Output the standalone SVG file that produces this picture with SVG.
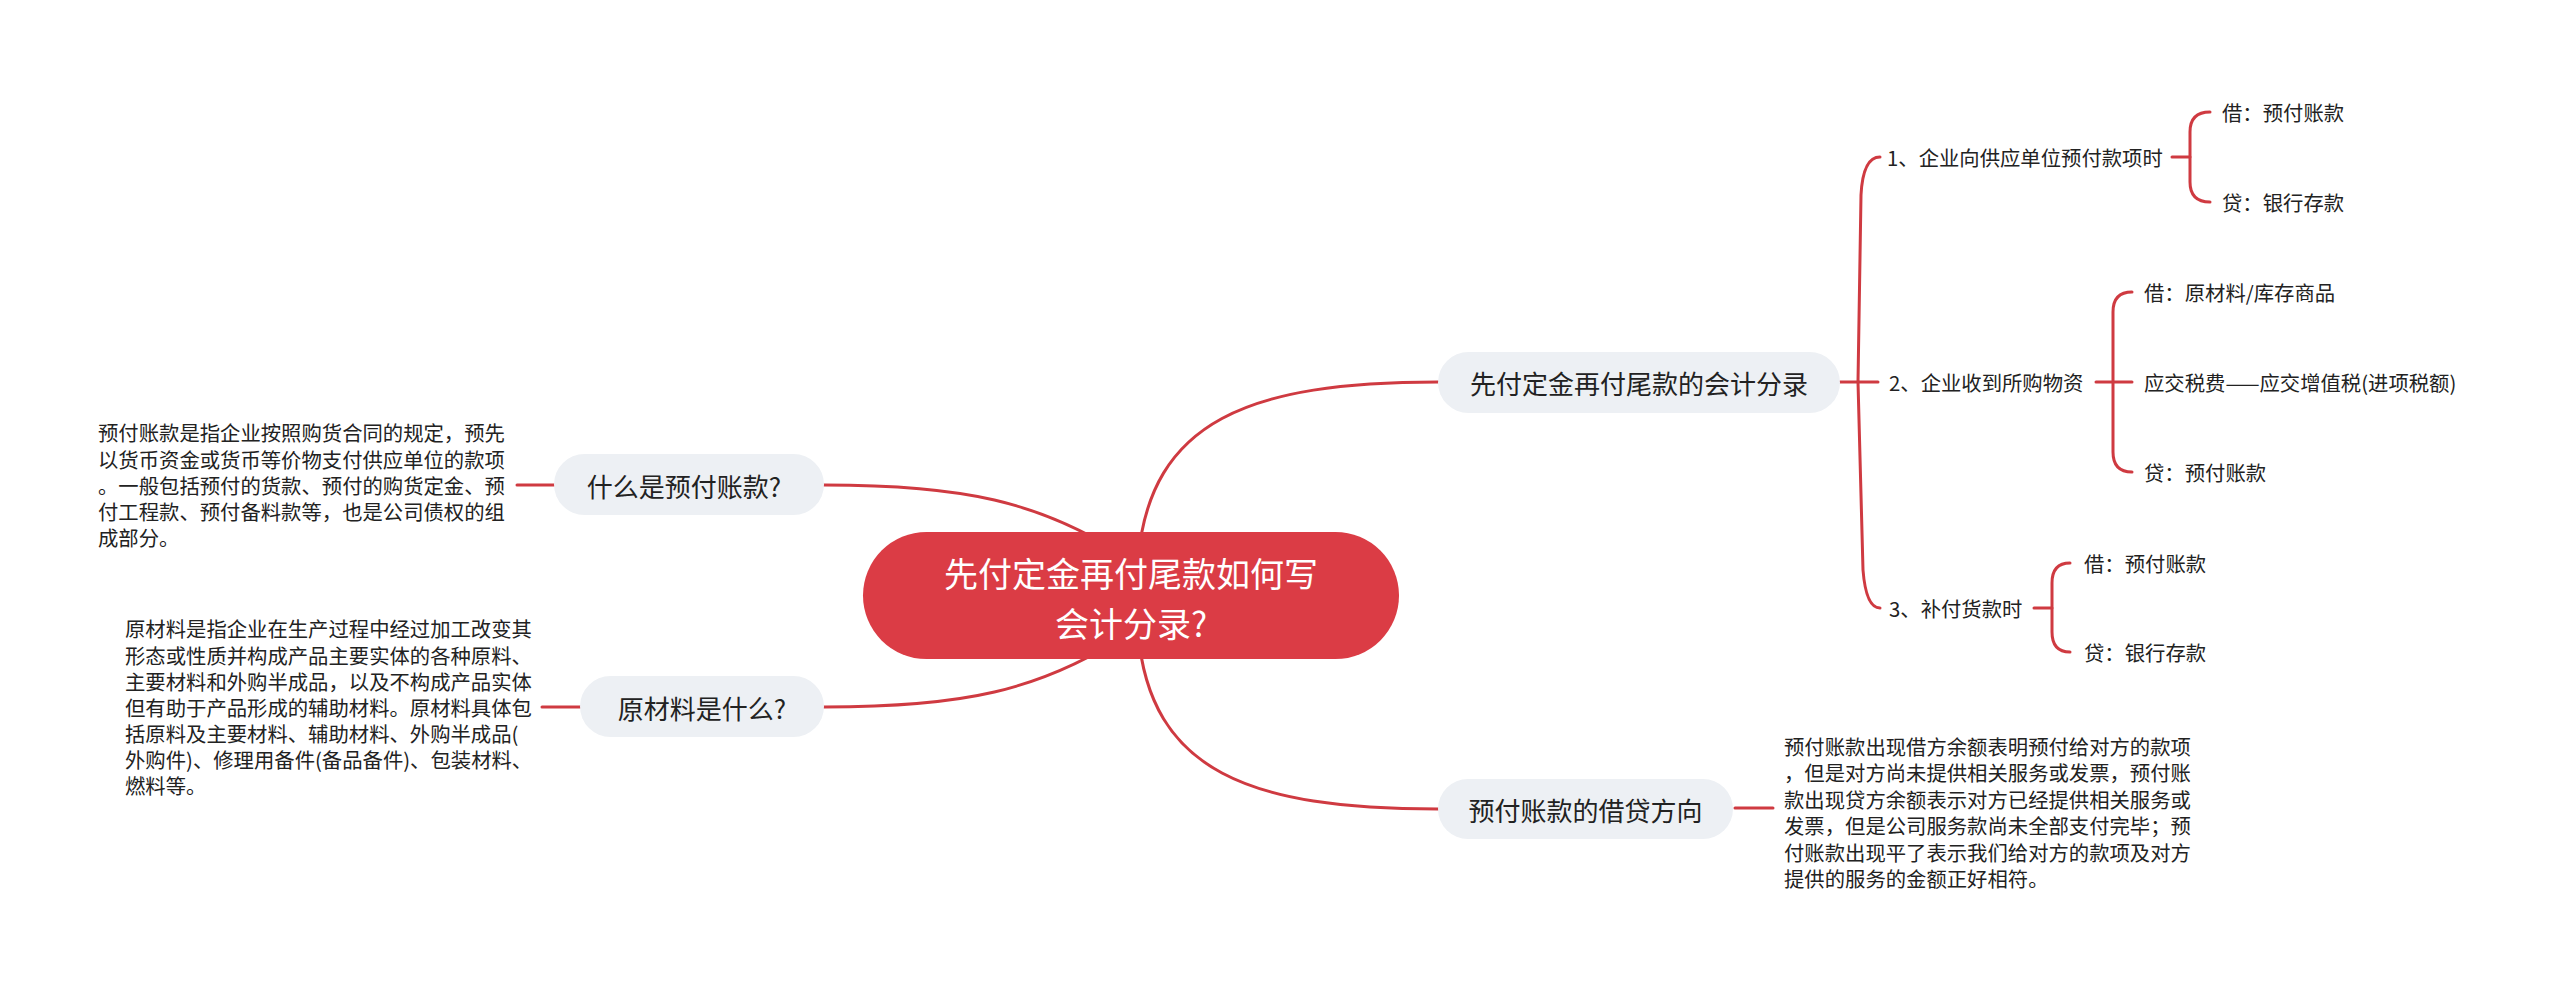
<svg xmlns="http://www.w3.org/2000/svg" width="2560" height="986" viewBox="0 0 2560 986">
<style>
text{font-family:"Noto Sans CJK SC","Noto Sans",sans-serif;dominant-baseline:central;fill:#222}
.c{fill:none;stroke:#cf3a41;stroke-width:3;stroke-linecap:round}
.n{fill:#edf0f4}
.t26{font-size:26px;text-anchor:middle}
.t20{font-size:20.35px}
.root{fill:#db3c45}
.rt{font-size:34px;fill:#fff;text-anchor:middle}
</style>
<rect width="2560" height="986" fill="#fff"/>
<g id="connectors">
<path class="c" d="M824,485 C960,485 1040,500 1131,560"/>
<path class="c" d="M824,707 C960,707 1040,692 1131,632"/>
<path class="c" d="M1138,560 C1150,420 1250,382 1438,382"/>
<path class="c" d="M1138,632 C1150,772 1250,809 1438,809"/>
<path class="c" d="M517,485 L554,485"/>
<path class="c" d="M542,707 L580,707"/>
<path class="c" d="M1735,808 L1773,808"/>
<path class="c" d="M1840,382 L1878,382"/>
<path class="c" d="M1858,382 L1861,195 Q1863,157 1880,157"/>
<path class="c" d="M1858,382 L1863,570 Q1866,608 1880,608"/>
<path class="c" d="M2172,157 L2190,157"/>
<path class="c" d="M2210,112 Q2190,112 2190,132 L2190,182 Q2190,202 2210,202"/>
<path class="c" d="M2096,382 L2132,382"/>
<path class="c" d="M2132,292 Q2113,292 2113,312 L2113,452 Q2113,472 2132,472"/>
<path class="c" d="M2034,608 L2052,608"/>
<path class="c" d="M2070,563 Q2052,563 2052,583 L2052,632 Q2052,652 2070,652"/>
</g>
<g id="root">
<rect class="root" x="863" y="532" width="536" height="127" rx="63.5"/>
<text class="rt" x="1131" y="572">先付定金再付尾款如何写</text>
<text class="rt" x="1131" y="622">会计分录?</text>
</g>
<g id="n-what-prepaid">
<rect class="n" x="554" y="454" width="270" height="61" rx="30.5"/>
<text class="t26" x="684" y="485">什么是预付账款?</text>
</g>
<g id="n-prepaid-desc">
<text class="t20" x="98" y="432">预付账款是指企业按照购货合同的规定，预先</text>
<text class="t20" x="98" y="459">以货币资金或货币等价物支付供应单位的款项</text>
<text class="t20" x="98" y="485">。一般包括预付的货款、预付的购货定金、预</text>
<text class="t20" x="98" y="511">付工程款、预付备料款等，也是公司债权的组</text>
<text class="t20" x="98" y="537">成部分。</text>
</g>
<g id="n-what-material">
<rect class="n" x="580" y="676" width="244" height="61" rx="30.5"/>
<text class="t26" x="702" y="707">原材料是什么?</text>
</g>
<g id="n-material-desc">
<text class="t20" x="125" y="628">原材料是指企业在生产过程中经过加工改变其</text>
<text class="t20" x="125" y="655">形态或性质并构成产品主要实体的各种原料、</text>
<text class="t20" x="125" y="681">主要材料和外购半成品，以及不构成产品实体</text>
<text class="t20" x="125" y="707">但有助于产品形成的辅助材料。原材料具体包</text>
<text class="t20" x="125" y="733">括原料及主要材料、辅助材料、外购半成品(</text>
<text class="t20" x="125" y="759">外购件)、修理用备件(备品备件)、包装材料、</text>
<text class="t20" x="125" y="785">燃料等。</text>
</g>
<g id="n-entries">
<rect class="n" x="1438" y="352" width="402" height="61" rx="30.5"/>
<text class="t26" x="1639" y="382">先付定金再付尾款的会计分录</text>
</g>
<g id="n-step1">
<text class="t20" x="1887" y="157">1、企业向供应单位预付款项时</text>
</g>
<g id="n-step1-dr"><text class="t20" x="2222" y="112">借：预付账款</text></g>
<g id="n-step1-cr"><text class="t20" x="2222" y="202">贷：银行存款</text></g>
<g id="n-step2">
<text class="t20" x="1889" y="382">2、企业收到所购物资</text>
</g>
<g id="n-step2-dr"><text class="t20" x="2144" y="292">借：原材料/库存商品</text></g>
<g id="n-step2-tax"><text class="t20" x="2144" y="382">应交税费——应交增值税(进项税额)</text></g>
<g id="n-step2-cr"><text class="t20" x="2144" y="472">贷：预付账款</text></g>
<g id="n-step3">
<text class="t20" x="1889" y="608">3、补付货款时</text>
</g>
<g id="n-step3-dr"><text class="t20" x="2084" y="563">借：预付账款</text></g>
<g id="n-step3-cr"><text class="t20" x="2084" y="652">贷：银行存款</text></g>
<g id="n-direction">
<rect class="n" x="1438" y="779" width="295" height="60" rx="30"/>
<text class="t26" x="1585.5" y="809">预付账款的借贷方向</text>
</g>
<g id="n-direction-desc">
<text class="t20" x="1784" y="746">预付账款出现借方余额表明预付给对方的款项</text>
<text class="t20" x="1784" y="772">，但是对方尚未提供相关服务或发票，预付账</text>
<text class="t20" x="1784" y="799">款出现贷方余额表示对方已经提供相关服务或</text>
<text class="t20" x="1784" y="825">发票，但是公司服务款尚未全部支付完毕；预</text>
<text class="t20" x="1784" y="852">付账款出现平了表示我们给对方的款项及对方</text>
<text class="t20" x="1784" y="878">提供的服务的金额正好相符。</text>
</g>
</svg>
